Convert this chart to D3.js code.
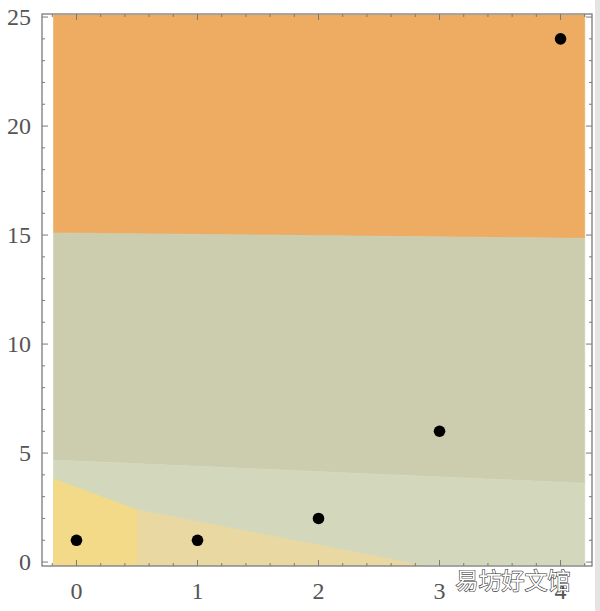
<!DOCTYPE html>
<html><head><meta charset="utf-8">
<script src="https://cdn.jsdelivr.net/npm/d3@7"></script>
<style>html,body{margin:0;padding:0;background:#fff;}svg{display:block;}</style>
</head><body>
<svg id="chart" width="600" height="611"></svg>
<script>
// Data points
const xValues = [0, 1, 2, 3, 4];
const yValues = [1, 1, 2, 6, 24];
// Tick labels
const xTickLabels = [0, 1, 2, 3, 4];
const yTickLabels = [0, 5, 10, 15, 20, 25];
// Background class regions (data coordinates)
const regionOrange = [[-0.19, 15.1], [4.2, 14.85], [4.2, 25.09], [-0.19, 25.09]];
const regionGrey = [[-0.19, 4.68], [4.2, 3.62], [4.2, 14.85], [-0.19, 15.1]];
const regionLight = [[-0.19, -0.14], [4.2, -0.14], [4.2, 3.62], [-0.19, 4.68]];
const regionTan = [[0.5, -0.14], [0.5, 2.4], [2.85, -0.14]];
const regionYellow = [[-0.19, -0.14], [-0.19, 3.82], [0.5, 2.4], [0.5, -0.14]];
const regions = [
  {pts: regionOrange, color: "#EDAC62"},
  {pts: regionGrey, color: "#CCCDAE"},
  {pts: regionLight, color: "#D3D8BD"},
  {pts: regionTan, color: "#EAD8A2"},
  {pts: regionYellow, color: "#F2DA88"}
];
const watermark = "易坊好文馆";

const svg = d3.select("#chart");
const x = d3.scaleLinear().domain([-0.285, 4.26]).range([42, 592]);
const y = d3.scaleLinear().domain([-0.18, 25.14]).range([566, 14]);

// right edge grey strip
svg.append("rect").attr("x", 595).attr("y", 0).attr("width", 5).attr("height", 611).attr("fill", "#e4e4e4");

const line = d3.line().x(d => x(d[0])).y(d => y(d[1]));
svg.selectAll("path.region").data(regions).join("path")
  .attr("class", "region")
  .attr("d", d => line(d.pts) + "Z")
  .attr("fill", d => d.color)
  .attr("stroke", d => d.color)
  .attr("stroke-width", 0.6);

// frame
const [x0, x1] = x.range();
const [y0, y1] = y.range();
const frameColor = "#7a7a7a";
svg.append("rect").attr("x", x0).attr("y", y1).attr("width", x1 - x0).attr("height", y0 - y1)
  .attr("fill", "none").attr("stroke", frameColor).attr("stroke-width", 1.3);

// ticks
const xMinor = d3.range(-0.2, 4.21, 0.2).map(v => Math.round(v * 10) / 10);
const yMinor = d3.range(0, 25.01, 1);
const g = svg.append("g").attr("stroke", frameColor).attr("stroke-width", 1);
xMinor.forEach(v => {
  const major = Math.abs(v - Math.round(v)) < 1e-6;
  const len = major ? 6 : 3;
  g.append("line").attr("x1", x(v)).attr("x2", x(v)).attr("y1", y0).attr("y2", y0 - len);
  g.append("line").attr("x1", x(v)).attr("x2", x(v)).attr("y1", y1).attr("y2", y1 + len);
});
yMinor.forEach(v => {
  const major = v % 5 === 0;
  const len = major ? 6 : 3;
  g.append("line").attr("y1", y(v)).attr("y2", y(v)).attr("x1", x0).attr("x2", x0 + len);
  g.append("line").attr("y1", y(v)).attr("y2", y(v)).attr("x1", x1).attr("x2", x1 - len);
});

// tick labels
const font = "'Liberation Serif', 'DejaVu Serif', serif";
svg.selectAll("text.xl").data(xTickLabels).join("text")
  .attr("class", "xl").attr("x", d => x(d)).attr("y", 599)
  .attr("text-anchor", "middle").attr("font-family", font).attr("font-size", 24).attr("fill", "#555")
  .text(d => d);
svg.selectAll("text.yl").data(yTickLabels).join("text")
  .attr("class", "yl").attr("x", 31).attr("y", d => y(d) + 8)
  .attr("text-anchor", "end").attr("font-family", font).attr("font-size", 24).attr("fill", "#555")
  .text(d => d);

// points
svg.selectAll("circle.pt").data(xValues.map((v, i) => [v, yValues[i]])).join("circle")
  .attr("class", "pt").attr("cx", d => x(d[0])).attr("cy", d => y(d[1])).attr("r", 5.8).attr("fill", "#000");

// watermark
svg.append("text").attr("x", 513).attr("y", 589).attr("text-anchor", "middle")
  .attr("font-family", "'Noto Sans CJK SC', sans-serif").attr("font-size", 23)
  .attr("fill", "#fff").attr("stroke", "#333").attr("stroke-width", 1.2).attr("paint-order", "stroke")
  .text(watermark);
</script>
</body></html>
